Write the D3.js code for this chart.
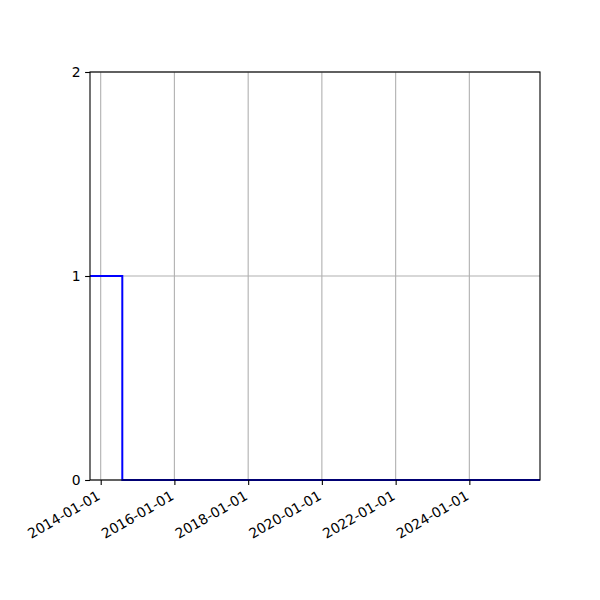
<!DOCTYPE html>
<html>
<head>
<meta charset="utf-8">
<style>
body { margin: 0; background: #fff; }
text { font-family: "DejaVu Sans", sans-serif; font-size: 13.9px; fill: #000; }
</style>
<script src="https://cdn.jsdelivr.net/npm/d3@7"></script>
</head>
<body>
<div id="chart"></div>
<script>
// step series (steps-post)
var dates = ["2013-09-17", "2014-08-03", "2025-12-01"];
var values = [1, 0, 0];
var xTickLabels = ["2014-01-01", "2016-01-01", "2018-01-01", "2020-01-01", "2022-01-01", "2024-01-01"];
var yTicks = [0, 1, 2];

var width = 600, height = 600;
var margin = {left: 90, right: 60, top: 72, bottom: 120};

var parse = d3.timeParse("%Y-%m-%d");
var data = dates.map(function(d, i) { return {date: parse(d), value: values[i]}; });

var svg = d3.select("#chart").append("svg")
	.attr("width", width)
	.attr("height", height);

var x = d3.scaleTime()
	.domain(d3.extent(data, function(d) { return d.date; }))
	.range([margin.left, width - margin.right]);

var y = d3.scaleLinear()
	.domain([0, 2])
	.range([height - margin.bottom, margin.top]);

var tickDates = xTickLabels.map(parse);

// grid
svg.append("g").selectAll("line.vx")
	.data(tickDates)
	.enter().append("line")
	.attr("x1", function(d) { return x(d); })
	.attr("x2", function(d) { return x(d); })
	.attr("y1", y(0)).attr("y2", y(2))
	.attr("stroke", "#b0b0b0").attr("stroke-width", 1.1);

svg.append("g").selectAll("line.hy")
	.data(yTicks)
	.enter().append("line")
	.attr("x1", x.range()[0]).attr("x2", x.range()[1])
	.attr("y1", function(d) { return y(d); })
	.attr("y2", function(d) { return y(d); })
	.attr("stroke", "#b0b0b0").attr("stroke-width", 1.1);

// line
var line = d3.line()
	.curve(d3.curveStepAfter)
	.x(function(d) { return x(d.date); })
	.y(function(d) { return y(d.value); });

svg.append("path")
	.datum(data)
	.attr("fill", "none")
	.attr("stroke", "#0000ff")
	.attr("stroke-width", 2)
	.attr("d", line);

// axes
var xAxis = svg.append("g")
	.attr("transform", "translate(0," + y(0) + ")")
	.call(d3.axisBottom(x).tickValues(tickDates).tickSize(4.9).tickFormat(d3.timeFormat("%Y-%m-%d")));
xAxis.select(".domain").remove();
xAxis.selectAll(".tick line").attr("stroke", "#000").attr("stroke-width", 1.1);
xAxis.selectAll(".tick text")
	.attr("text-anchor", "end")
	.attr("font-family", null).attr("font-size", null)
	.attr("x", 0).attr("y", 0).attr("dy", "0.72em")
	.attr("transform", "translate(-5,10) rotate(-30)");

var yAxis = svg.append("g")
	.attr("transform", "translate(" + margin.left + ",0)")
	.call(d3.axisLeft(y).tickValues(yTicks).tickSize(4.9).tickPadding(4.5).tickFormat(d3.format("d")));
yAxis.select(".domain").remove();
yAxis.selectAll(".tick line").attr("stroke", "#000").attr("stroke-width", 1.1);
yAxis.selectAll(".tick text").attr("font-family", null).attr("font-size", null);

// frame
svg.append("rect")
	.attr("x", x.range()[0]).attr("y", y(2))
	.attr("width", x.range()[1] - x.range()[0])
	.attr("height", y(0) - y(2))
	.attr("fill", "none")
	.attr("stroke", "#000").attr("stroke-width", 1.1);
</script>
</body>
</html>
